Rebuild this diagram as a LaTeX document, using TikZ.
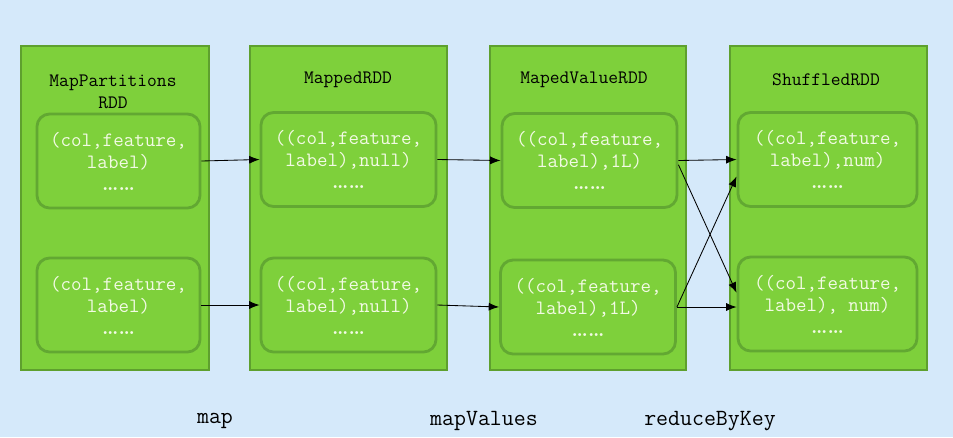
\documentclass[tikz,border=0pt]{standalone}
\usetikzlibrary{arrows.meta}
\definecolor{fondo}{RGB}{213,233,250}
\definecolor{verde}{RGB}{126,208,59}
\definecolor{verdeborde}{RGB}{94,160,46}
\definecolor{verdecaja}{RGB}{98,168,50}
\definecolor{textocaja}{RGB}{242,250,228}
\begin{document}
\begin{tikzpicture}[x=0.025cm, y=-0.025cm,
    font=\ttfamily\fontsize{13.5}{15.6}\selectfont,
    rdd/.style={draw=verdeborde, line width=2pt, fill=verde, minimum height=8.1cm},
    caja/.style={draw=verdecaja, line width=2pt, fill=verde, rounded corners=9pt,
        minimum height=2.35cm, align=center, text=textocaja, inner sep=2pt,
        font=\ttfamily\fontsize{14.5}{15.6}\selectfont},
    titulo/.style={align=center, text=black},
    operacion/.style={text=black, font=\ttfamily\fontsize{16.5}{18}\selectfont},
    flecha/.style={-{Latex[length=2.6mm,width=2mm]}, black, line width=0.6pt}]
        % Fondo
        \fill[fondo] (0,0) rectangle (953,437);
        \useasboundingbox (0,0) rectangle (953,437);

        % Columnas RDD
        \node[rdd, minimum width=4.7cm] (mp) at (115,208) {};
        \node[rdd, minimum width=4.925cm] (mapped) at (348.5,208) {};
        \node[rdd, minimum width=4.9cm] (maped) at (588,208) {};
        \node[rdd, minimum width=4.925cm] (shuffled) at (828.5,208) {};

        % Titulos
        \node[titulo] (tmp) at (113,92) {MapPartitions\\RDD};
        \node[titulo] (tmapped) at (348,80) {MappedRDD};
        \node[titulo] (tmaped) at (584,80) {MapedValueRDD};
        \node[titulo] (tshuffled) at (826,80) {ShuffledRDD};

        % Particiones de MapPartitionsRDD
        \node[caja, minimum width=4.075cm] (mp1) at (118.5,161) {(col,feature,\\label)\\{\rmfamily\bfseries\ldots\ldots}};
        \node[caja, minimum width=4.075cm] (mp2) at (118.5,305) {(col,feature,\\label)\\{\rmfamily\bfseries\ldots\ldots}};

        % Particiones de MappedRDD
        \node[caja, minimum width=4.375cm] (mapped1) at (348.5,159.5) {((col,feature,\\label),null)\\{\rmfamily\bfseries\ldots\ldots}};
        \node[caja, minimum width=4.375cm] (mapped2) at (348.5,305) {((col,feature,\\label),null)\\{\rmfamily\bfseries\ldots\ldots}};

        % Particiones de MapedValueRDD
        \node[caja, minimum width=4.375cm] (maped1) at (589.5,160.5) {((col,feature,\\label),1L)\\{\rmfamily\bfseries\ldots\ldots}};
        \node[caja, minimum width=4.375cm] (maped2) at (588,307) {((col,feature,\\label),1L)\\{\rmfamily\bfseries\ldots\ldots}};

        % Particiones de ShuffledRDD
        \node[caja, minimum width=4.475cm] (shuffled1) at (827.5,159.5) {((col,feature,\\label),num)\\{\rmfamily\bfseries\ldots\ldots}};
        \node[caja, minimum width=4.475cm] (shuffled2) at (827.5,304) {((col,feature,\\label), num)\\{\rmfamily\bfseries\ldots\ldots}};

        % map
        \draw[flecha] (mp1.east) -- (mapped1.west);
        \draw[flecha] (mp2.east) -- (mapped2.west);

        % mapValues
        \draw[flecha] (mapped1.east) -- (maped1.west);
        \draw[flecha] (mapped2.east) -- (maped2.west);

        % reduceByKey (shuffle cruzado)
        \draw[flecha] (maped1.east) -- (shuffled1.west);
        \draw[flecha] ([yshift=-3pt]maped1.east) -- ([yshift=8pt]shuffled2.west);
        \draw[flecha] (maped2.east) -- ([yshift=-12pt]shuffled1.west);
        \draw[flecha] (maped2.east) -- (maped2.east -| shuffled2.west);

        % Etiquetas de las operaciones
        \node[operacion] (lmap) at (215,421) {map};
        \node[operacion] (lmapvalues) at (484,421) {mapValues};
        \node[operacion] (lreduce) at (710,421) {reduceByKey};
    \end{tikzpicture}
\end{document}
